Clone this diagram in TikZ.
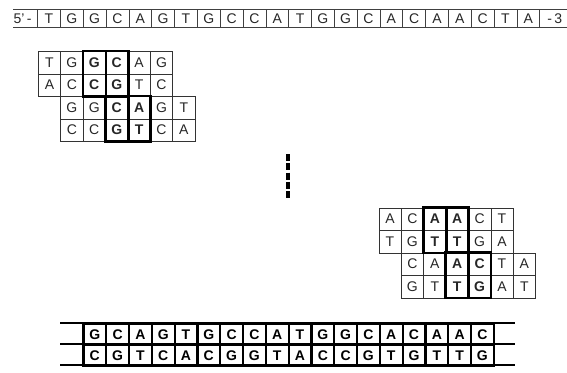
\documentclass[tikz,border=0pt]{standalone}
\usepackage{fontspec}
\setmainfont{Liberation Sans}
\begin{document}
\begin{tikzpicture}[x=1pt,y=-1pt,
  letters/.style={font=\fontsize{14}{14}\selectfont},
  seqcell/.style={letters, draw=black!75, line width=0.6pt, text=black!85,
    minimum width=22.82pt, minimum height=18pt, inner sep=0pt, anchor=north west},
  cell/.style={letters, draw=black!80, line width=0.6pt, text=black!85,
    minimum width=22.4pt, minimum height=22.5pt, inner sep=0pt, anchor=north west},
  strandcell/.style={draw=black, line width=2.2pt, font=\fontsize{14}{14}\selectfont\bfseries,
    minimum width=22.8pt, minimum height=21pt, inner sep=0pt, anchor=north west},
  thickbox/.style={draw=black, line width=2.6pt},
  strandline/.style={draw=black, line width=2.6pt},
  seqline/.style={draw=black!75, line width=0.6pt},
  dotted link/.style={draw=black, line width=4pt, dash pattern=on 7pt off 2.3pt}
]
\useasboundingbox (0,0) rectangle (567,372);

% ---- template strand on top
\coordinate (seqL1) at (13,9);   \coordinate (seqR1) at (567,9);
\coordinate (seqL2) at (13,27);  \coordinate (seqR2) at (567,27);
\draw[seqline] (seqL1) -- (seqR1);
\draw[seqline] (seqL2) -- (seqR2);
\foreach \l [count=\i] in {T,G,G,C,A,G,T,G,C,C,A,T,G,G,C,A,C,A,A,C,T,A}
  \node[seqcell] (s\i) at ({37.3+(\i-1)*22.82},9) {\l};
\node[letters, text=black!85, anchor=east] (five) at (s1.west) {5'\,-\,};
\node[letters, text=black!85, anchor=west] (three) at (s22.east) {\ -\,3};

% ---- first set of probes
\foreach \l [count=\i] in {T,G,\bfseries G,\bfseries C,A,G}
  \node[cell] (a1-\i) at ({38+(\i-1)*22.4},51) {\l};
\foreach \l [count=\i] in {A,C,\bfseries C,\bfseries G,T,C}
  \node[cell] (a2-\i) at ({38+(\i-1)*22.4},73.5) {\l};
\foreach \l [count=\i] in {G,G,\bfseries C,\bfseries A,G,T}
  \node[cell] (a3-\i) at ({60.4+(\i-1)*22.4},96) {\l};
\foreach \l [count=\i] in {C,C,\bfseries G,\bfseries T,C,A}
  \node[cell] (a4-\i) at ({60.4+(\i-1)*22.4},118.5) {\l};
\draw[thickbox] (a1-3.north west) rectangle (a2-4.south east);
\draw[thickbox] (a1-3.north east) -- (a2-3.south east);
\draw[thickbox] (a3-3.north west) rectangle (a4-4.south east);
\draw[thickbox] (a3-3.north east) -- (a4-3.south east);

% ---- continuation mark
\coordinate (dotsTop) at (288,154);
\coordinate (dotsBot) at (288,199);
\draw[dotted link] (dotsTop) -- (dotsBot);

% ---- last set of probes
\foreach \l [count=\i] in {A,C,\bfseries A,\bfseries A,C,T}
  \node[cell] (b1-\i) at ({378.5+(\i-1)*22.4},207.5) {\l};
\foreach \l [count=\i] in {T,G,\bfseries T,\bfseries T,G,A}
  \node[cell] (b2-\i) at ({378.5+(\i-1)*22.4},230) {\l};
\foreach \l [count=\i] in {C,A,\bfseries A,\bfseries C,T,A}
  \node[cell] (b3-\i) at ({400.9+(\i-1)*22.4},252.5) {\l};
\foreach \l [count=\i] in {G,T,\bfseries T,\bfseries G,A,T}
  \node[cell] (b4-\i) at ({400.9+(\i-1)*22.4},275) {\l};
\draw[thickbox] (b1-3.north west) rectangle (b2-4.south east);
\draw[thickbox] (b1-3.north east) -- (b2-3.south east);
\draw[thickbox] (b3-3.north west) rectangle (b4-4.south east);
\draw[thickbox] (b3-3.north east) -- (b4-3.south east);

% ---- assembled double strand
\foreach \l [count=\i] in {G,C,A,G,T,G,C,C,A,T,G,G,C,A,C,A,A,C}
  \node[strandcell] (u\i) at ({82.3+(\i-1)*22.8},323) {\l};
\foreach \l [count=\i] in {C,G,T,C,A,C,G,G,T,A,C,C,G,T,G,T,T,G}
  \node[strandcell] (d\i) at ({82.3+(\i-1)*22.8},344) {\l};
\coordinate (dsL1) at (60,323);  \coordinate (dsR1) at (515,323);
\coordinate (dsL2) at (60,344);  \coordinate (dsR2) at (515,344);
\coordinate (dsL3) at (60,365);  \coordinate (dsR3) at (515,365);
\draw[strandline] (dsL1) -- (dsR1);
\draw[strandline] (dsL2) -- (dsR2);
\draw[strandline] (dsL3) -- (dsR3);
\end{tikzpicture}
\end{document}
